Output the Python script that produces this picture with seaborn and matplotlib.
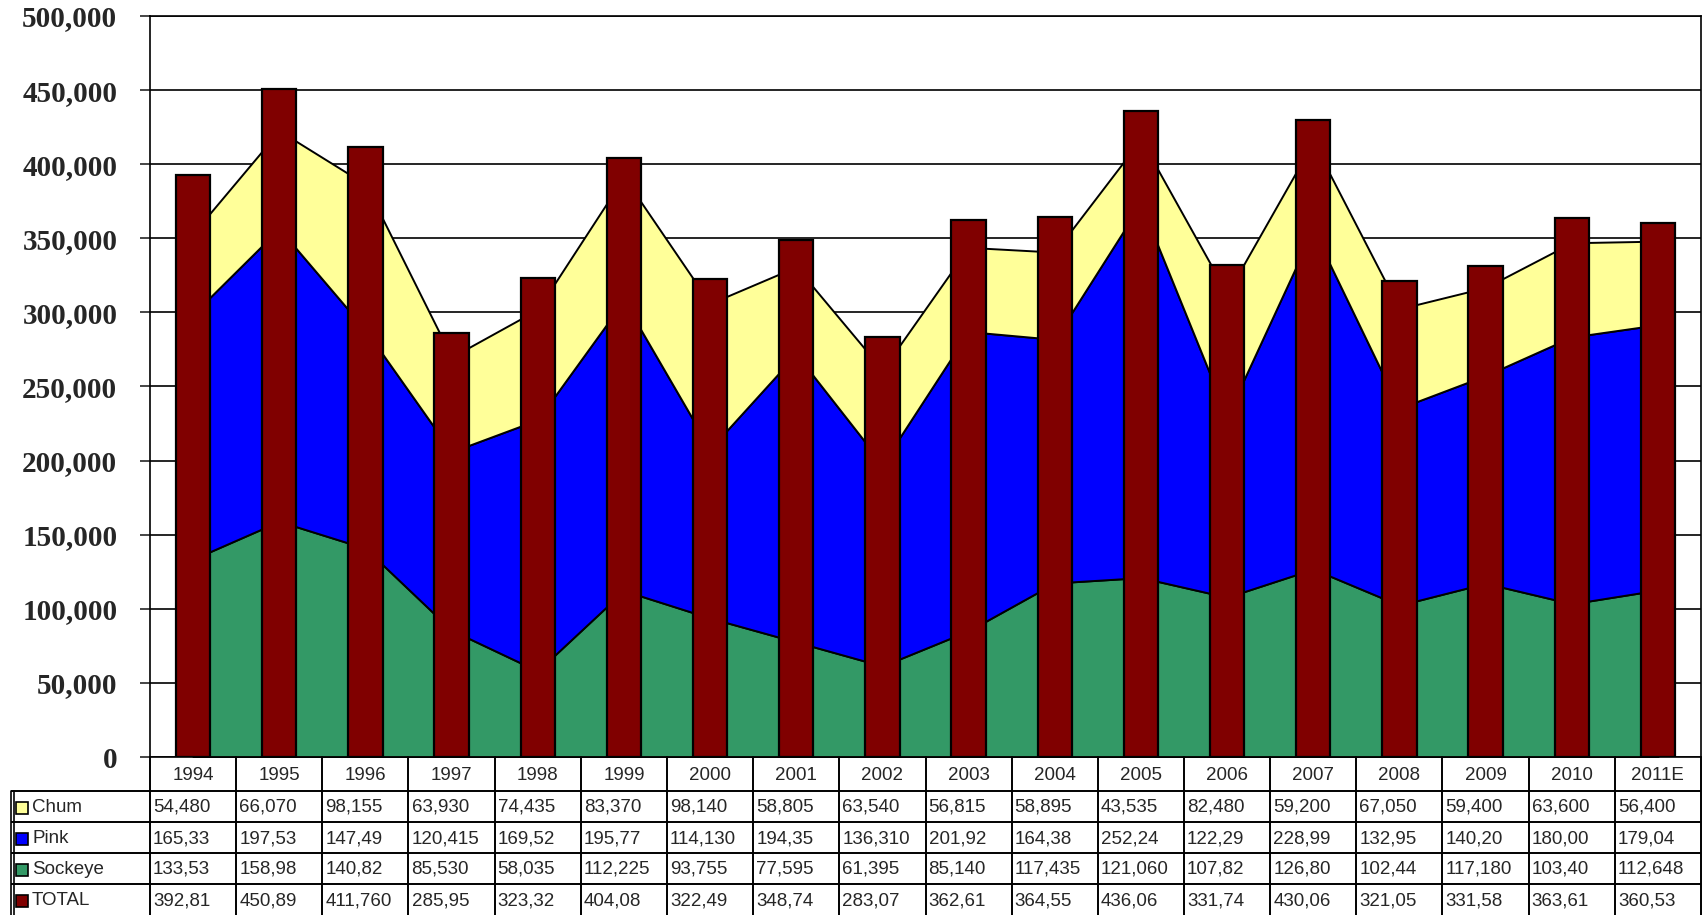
import numpy as np
import pandas as pd
import matplotlib
matplotlib.use("Agg")
import matplotlib.pyplot as plt
import matplotlib.transforms as mtransforms
import seaborn as sns
from matplotlib.patches import Rectangle

years = ['1994', '1995', '1996', '1997', '1998', '1999', '2000', '2001', '2002',
         '2003', '2004', '2005', '2006', '2007', '2008', '2009', '2010', '2011E']
chum = [54480, 66070, 98155, 63930, 74435, 83370, 98140, 58805, 63540,
        56815, 58895, 43535, 82480, 59200, 67050, 59400, 63600, 56400]
pink = [165330, 197530, 147490, 120415, 169520, 195770, 114130, 194350, 136310,
        201920, 164380, 252240, 122290, 228990, 132950, 140200, 180000, 179040]
sockeye = [133530, 158980, 140820, 85530, 58035, 112225, 93755, 77595, 61395,
           85140, 117435, 121060, 107820, 126800, 102440, 117180, 103400, 112648]
total = [392810, 450890, 411760, 285950, 323320, 404080, 322490, 348740, 283070,
         362610, 364550, 436060, 331740, 430060, 321050, 331580, 363610, 360530]

# table text as printed (cells are clipped in the original)
chum_txt = ['54,480', '66,070', '98,155', '63,930', '74,435', '83,370', '98,140', '58,805', '63,540',
            '56,815', '58,895', '43,535', '82,480', '59,200', '67,050', '59,400', '63,600', '56,400']
pink_txt = ['165,33', '197,53', '147,49', '120,415', '169,52', '195,77', '114,130', '194,35', '136,310',
            '201,92', '164,38', '252,24', '122,29', '228,99', '132,95', '140,20', '180,00', '179,04']
sockeye_txt = ['133,53', '158,98', '140,82', '85,530', '58,035', '112,225', '93,755', '77,595', '61,395',
               '85,140', '117,435', '121,060', '107,82', '126,80', '102,44', '117,180', '103,40', '112,648']
total_txt = ['392,81', '450,89', '411,760', '285,95', '323,32', '404,08', '322,49', '348,74', '283,07',
             '362,61', '364,55', '436,06', '331,74', '430,06', '321,05', '331,58', '363,61', '360,53']
row_names = ['Chum', 'Pink', 'Sockeye', 'TOTAL']

c_chum = '#FFFF99'
c_pink = '#0000FF'
c_sock = '#339966'
c_total = '#800000'

sns.set_style("white")
tfont = ['Liberation Sans Narrow', 'Liberation Sans', 'DejaVu Sans']
tsize = 13.5

W, H = 1704, 915
fig = plt.figure(figsize=(W / 100, H / 100), dpi=100)
ax = fig.add_axes([150 / W, 1 - 757 / H, 1551 / W, 741 / H])

x = np.arange(len(years))
ax.stackplot(x, sockeye, pink, chum, colors=[c_sock, c_pink, c_chum],
             edgecolor='black', linewidth=1.4, zorder=2)

df = pd.DataFrame({'year': years, 'total': total})
sns.barplot(data=df, x='year', y='total', color=c_total, saturation=1,
            width=0.4, edgecolor='black', linewidth=1.6, ax=ax, zorder=3)

ax.set_xlim(-0.5, len(years) - 0.5)
ax.set_ylim(0, 500000)
ax.set_yticks(np.arange(0, 500001, 50000))
ax.set_yticklabels([f'{v:,}' for v in range(0, 500001, 50000)],
                   family=['Liberation Serif'], fontweight='bold', fontsize=21)
ax.yaxis.grid(True, color='black', linewidth=1.2, zorder=0)
ax.set_axisbelow(True)
ax.tick_params(axis='y', direction='out', length=7.5, width=1.2, pad=16, left=True)
ax.set_xticks([])
ax.set_xlabel('')
ax.set_ylabel('')
for s in ax.spines.values():
    s.set_visible(True)
    s.set_color('black')
    s.set_linewidth(1.2)

# ---- data table drawn below the axes ----
# x in data units (category slots), y in axes fraction
blend = mtransforms.blended_transform_factory(ax.transData, ax.transAxes)
ah = 741.0
def ay(py):
    # pixel row (from top of figure) -> axes fraction
    return (757 - py) / ah

row_tops = [791, 822, 853, 884, 915]
lw = 1.4
slot = 1551 / 18
x_lab = -0.5 - 139 / slot   # left edge of the label column, in data units

# horizontal rules
for py in row_tops[:-1]:
    ax.plot([x_lab, len(years) - 0.5], [ay(py), ay(py)], transform=blend,
            color='black', lw=lw, clip_on=False, solid_capstyle='butt')
# vertical rules
for k in range(len(years) + 1):
    ax.plot([k - 0.5, k - 0.5], [ay(757), ay(918)], transform=blend,
            color='black', lw=lw, clip_on=False)
for dx in (0.0, 0.04):
    ax.plot([x_lab + dx, x_lab + dx], [ay(791), ay(918)], transform=blend,
            color='black', lw=1.2, clip_on=False)

# header (years)
for i, yr in enumerate(years):
    ax.text(i, ay(775), yr, transform=blend, ha='center', va='center',
            fontsize=tsize, family=tfont, clip_on=False)

# body rows
rows = [chum_txt, pink_txt, sockeye_txt, total_txt]
keys = [c_chum, c_pink, c_sock, c_total]
for r, (vals, name, col) in enumerate(zip(rows, row_names, keys)):
    yc = ay((row_tops[r] + row_tops[r + 1]) / 2 + 1)
    for i, v in enumerate(vals):
        ax.text(i - 0.5 + 0.035, yc, v, transform=blend, ha='left', va='center',
                fontsize=tsize, family=tfont, clip_on=False)
    ax.text(x_lab + 21 / slot, yc, name, transform=blend, ha='left',
            va='center', fontsize=tsize, family=tfont, clip_on=False)
    ax.add_patch(Rectangle((x_lab + 5 / slot, yc - 6 / ah), 12 / slot, 12 / ah,
                           transform=blend, facecolor=col, edgecolor='black',
                           linewidth=1.2, clip_on=False, zorder=5))

fig.savefig('out.png', dpi=100)
